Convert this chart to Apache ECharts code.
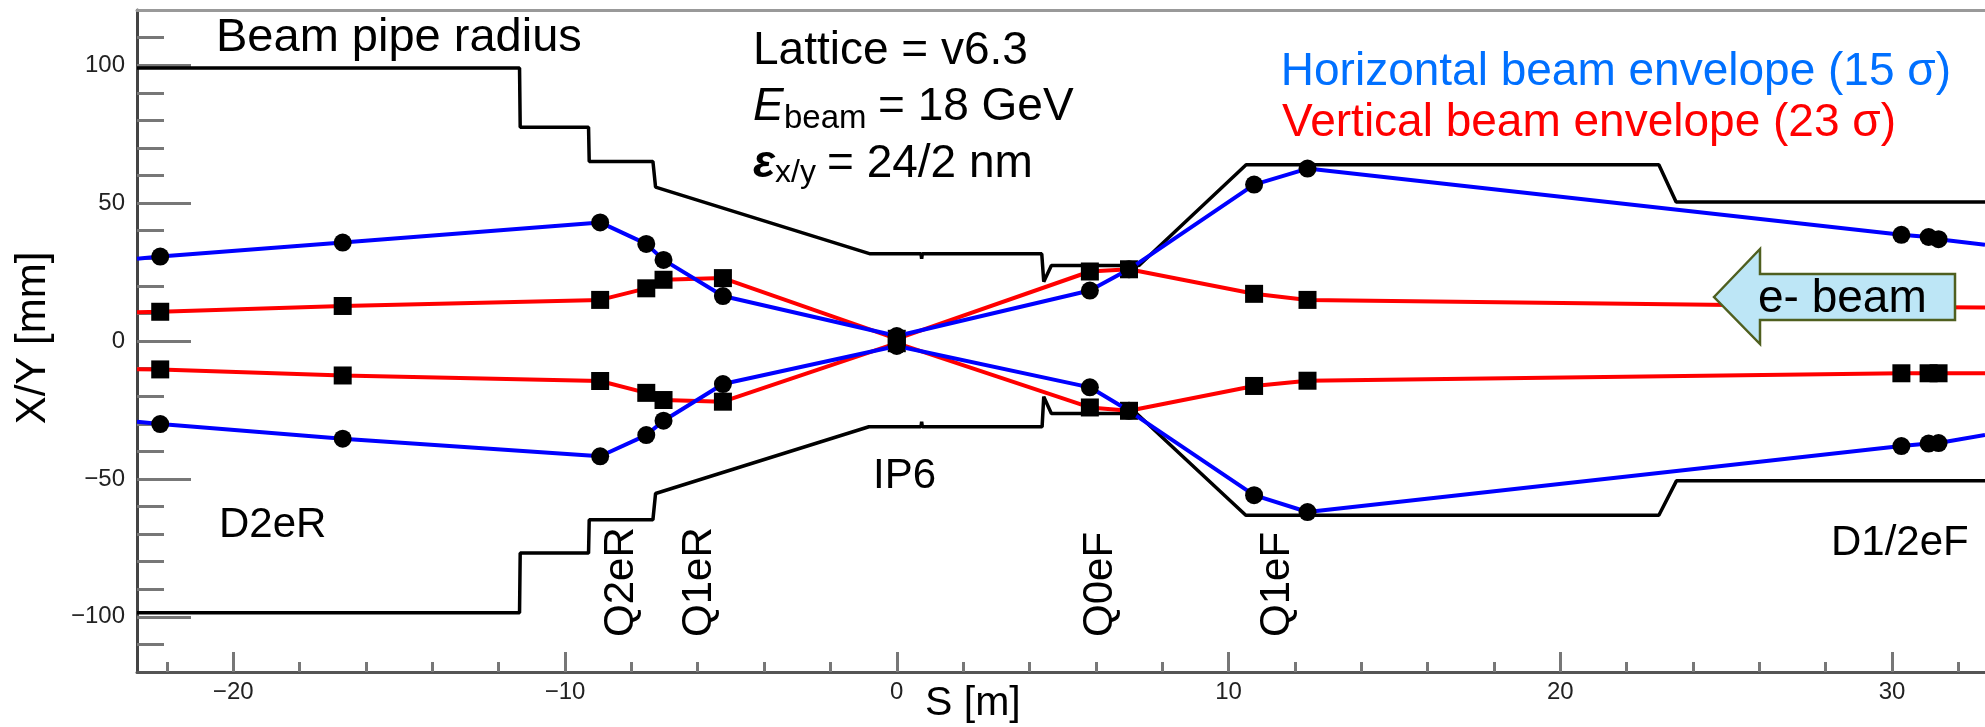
<!DOCTYPE html>
<html>
<head>
<meta charset="utf-8">
<title>IR6 beam envelope</title>
<script src="https://cdn.jsdelivr.net/npm/echarts@6/dist/echarts.min.js"></script>
<style>
html,body{margin:0;padding:0;background:#fff;}
#chartmain{width:1985px;height:727px;}
</style>
</head>
<body>
<div id="chartmain"></div>
<script>
// S [m] of envelope points (first and last are where the lines leave the frame)
var sPts = [-22.9, -22.2, -16.7, -8.94, -7.55, -7.03, -5.24, 0, 5.82, 7.0, 10.77, 12.38, 30.28, 31.1, 31.4, 32.8];
// horizontal envelope (15 sigma) [mm]
var hUp = [29.8, 30.6, 35.7, 43.0, 35.2, 29.4, 16.3, 1.8, 18.3, 26.0, 56.7, 62.5, 38.5, 37.7, 36.9, 34.9];
var hDn = [-29.3, -30.1, -35.4, -41.8, -34.1, -28.9, -15.6, -1.8, -16.8, -25.3, -55.9, -62.0, -38.1, -37.2, -37.0, -34.1];
// vertical envelope (23 sigma) [mm]
var vUp = [10.4, 10.6, 12.7, 14.9, 19.1, 22.2, 22.8, 0.8, 25.2, 26.0, 17.1, 14.9, 12.3, 12.2, 12.2, 12.1];
var vDn = [-10.2, -10.3, -12.5, -14.5, -18.8, -21.4, -22.0, -0.8, -24.1, -25.3, -16.3, -14.4, -11.7, -11.7, -11.7, -11.7];

// beam pipe radius
var pipeSUp = [-22.9, -11.37, -11.35, -9.29, -9.27, -7.35, -7.27, -0.8, 0.73, 0.75, 0.77, 4.37, 4.43, 4.66, 7.3, 10.53, 22.97, 23.49, 32.8];
var pipeUp = [99, 99, 77.5, 77.5, 65.1, 65.1, 55.8, 31.6, 31.6, 29.8, 31.6, 31.6, 21.5, 27.4, 27.4, 63.9, 63.9, 50.4, 50.4];
var pipeSDn = [-22.9, -11.37, -11.35, -9.29, -9.27, -7.35, -7.27, -0.84, 0.73, 0.75, 0.77, 4.38, 4.43, 4.66, 7.23, 10.52, 22.97, 23.5, 32.8];
var pipeDn = [-98.5, -98.5, -76.9, -76.9, -64.8, -64.8, -55.3, -31.1, -31.1, -29.3, -31.1, -31.1, -20.2, -26.3, -26.3, -63.2, -63.2, -50.7, -50.7];

// ticks
var xMajor = [-20, -10, 0, 10, 20, 30];
var xMinor = [-22, -18, -16, -14, -12, -8, -6, -4, -2, 2, 4, 6, 8, 12, 14, 16, 18, 22, 24, 26, 28, 32];
var yMajor = [-100, -50, 0, 50, 100];
var yMinor = [-110, -90, -80, -70, -60, -40, -30, -20, -10, 10, 20, 30, 40, 60, 70, 80, 90, 110];

var FONT = '"Liberation Sans", Arial, Helvetica, sans-serif';

function pts(xs, ys){
    return xs.map(function(x, i){
        var d = {value: [x, ys[i]]};
        if(i == 0 || i == xs.length - 1) d.symbol = 'none';
        return d;
    });
}
function pairs(xs, ys){
    return xs.map(function(x, i){ return [x, ys[i]]; });
}
// text placed by its baseline (canvas 'middle' sits ~0.347em above baseline)
function txt(str, x, base, size, opt){
    opt = opt || {};
    return {
        type: 'text', x: x, y: base - 0.347 * size, z: 100,
        rotation: opt.rot || 0,
        style: {
            text: str,
            font: (opt.style || '') + ' ' + size + 'px ' + FONT,
            fill: opt.color || '#000',
            align: opt.align || 'left', textAlign: opt.align || 'left',
            verticalAlign: 'middle', textVerticalAlign: 'middle'
        }
    };
}
// vertical text read bottom to top, x is the baseline
function vtxt(str, xBase, yStart, size, align){
    var t = txt(str, xBase - 0.347 * size, 0, size, {rot: Math.PI / 2, align: align || 'left'});
    t.y = yStart;
    return t;
}
function minus(v){ return String(v).replace('-', '\u2212'); }

var myChart = echarts.init(document.getElementById('chartmain'));

var lineBase = {type: 'line', xAxisIndex: 0, yAxisIndex: 0, animation: false, symbolSize: 18};
var series = [
    Object.assign({}, lineBase, {name: 'pipeUp', data: pairs(pipeSUp, pipeUp), showSymbol: false, symbol: 'none', z: 2,
        lineStyle: {color: '#000', width: 3.5}}),
    Object.assign({}, lineBase, {name: 'pipeDn', data: pairs(pipeSDn, pipeDn), showSymbol: false, symbol: 'none', z: 2,
        lineStyle: {color: '#000', width: 3.5}}),
    Object.assign({}, lineBase, {name: 'vUp', data: pts(sPts, vUp), symbol: 'rect', z: 3,
        lineStyle: {color: '#ff0000', width: 4}, itemStyle: {color: '#000'}}),
    Object.assign({}, lineBase, {name: 'vDn', data: pts(sPts, vDn), symbol: 'rect', z: 3,
        lineStyle: {color: '#ff0000', width: 4}, itemStyle: {color: '#000'}}),
    Object.assign({}, lineBase, {name: 'hUp', data: pts(sPts, hUp), symbol: 'circle', z: 4,
        lineStyle: {color: '#0000ff', width: 4}, itemStyle: {color: '#000'}}),
    Object.assign({}, lineBase, {name: 'hDn', data: pts(sPts, hDn), symbol: 'circle', z: 4,
        lineStyle: {color: '#0000ff', width: 4}, itemStyle: {color: '#000'}})
];

var graphics = [
    txt('Beam pipe radius', 216, 54, 47),
    txt('Lattice = v6.3', 753, 67, 46),
    txt('E', 753, 123.3, 46, {style: 'italic'}),
    txt('beam', 784, 130, 33),
    txt('= 18 GeV', 878, 123.3, 46),
    txt('\u03b5', 753, 180, 46, {style: 'italic bold'}),
    txt('x/y', 775, 184, 32),
    txt('= 24/2 nm', 827, 180, 46),
    txt('Horizontal beam envelope (15 \u03c3)', 1951, 88.3, 46, {color: '#0070ff', align: 'right'}),
    txt('Vertical beam envelope (23 \u03c3)', 1896, 139, 46, {color: '#ff0000', align: 'right'}),
    txt('D2eR', 219, 540, 42),
    txt('IP6', 873, 491, 42),
    txt('D1/2eF', 1831, 558, 42),
    vtxt('Q2eR', 636, 637, 42),
    vtxt('Q1eR', 714, 637, 42),
    vtxt('Q0eF', 1115, 637, 42),
    vtxt('Q1eF', 1292, 637, 42),
    vtxt('X/Y [mm]', 48, 338, 42, 'center'),
    txt('S [m]', 925, 718, 41),
    // e- beam arrow
    {
        type: 'polygon', z: 90,
        shape: {points: [[1714, 297], [1760, 249], [1760, 274], [1955, 274], [1955, 320], [1760, 320], [1760, 344]]},
        style: {fill: '#bde6f6', stroke: '#4f5f1f', lineWidth: 2.5}
    },
    txt('e- beam', 1758, 315, 46)
];

var axisBase = {type: 'value', min: -22.9, max: 32.8, splitLine: {show: false}};
var option = {
    backgroundColor: '#fff',
    animation: false,
    grid: {left: 137, right: 0, top: 10, bottom: 55, containLabel: false},
    xAxis: [
        Object.assign({}, axisBase, {
            position: 'bottom',
            axisLine: {show: true, onZero: false, lineStyle: {color: '#555', width: 3}},
            axisTick: {show: true, inside: true, length: 20, customValues: xMajor, lineStyle: {color: '#777', width: 3}},
            axisLabel: {show: true, customValues: xMajor, margin: 8, fontSize: 24, fontFamily: FONT, color: '#222', formatter: minus}
        }),
        Object.assign({}, axisBase, {
            position: 'bottom',
            axisLine: {show: false, onZero: false},
            axisTick: {show: true, inside: true, length: 10, customValues: xMinor, lineStyle: {color: '#777', width: 3}},
            axisLabel: {show: false}
        }),
        Object.assign({}, axisBase, {
            position: 'top',
            axisLine: {show: true, onZero: false, lineStyle: {color: '#999', width: 3}},
            axisTick: {show: false},
            axisLabel: {show: false}
        })
    ],
    yAxis: [
        {
            type: 'value', min: -120, max: 120, splitLine: {show: false},
            axisLine: {show: true, onZero: false, lineStyle: {color: '#444', width: 3}},
            axisTick: {show: true, inside: true, length: 54, customValues: yMajor, lineStyle: {color: '#777', width: 3}},
            axisLabel: {show: true, customValues: yMajor, margin: 12, fontSize: 24, fontFamily: FONT, color: '#222', formatter: minus}
        },
        {
            type: 'value', min: -120, max: 120, splitLine: {show: false}, position: 'left',
            axisLine: {show: false, onZero: false},
            axisTick: {show: true, inside: true, length: 27, customValues: yMinor, lineStyle: {color: '#777', width: 3}},
            axisLabel: {show: false}
        }
    ],
    series: series,
    graphic: graphics
};
myChart.setOption(option);
</script>
</body>
</html>
